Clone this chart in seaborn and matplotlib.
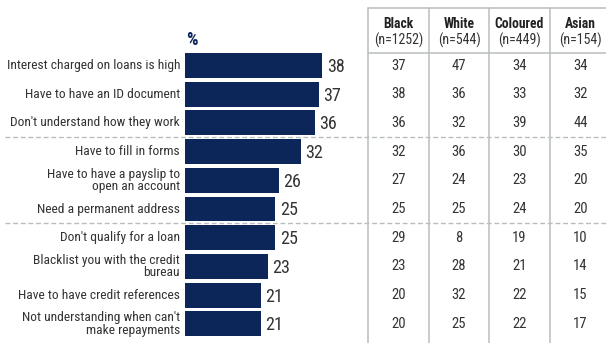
import matplotlib
matplotlib.use("Agg")
import matplotlib.pyplot as plt
import seaborn as sns
import pandas as pd
from matplotlib import font_manager

categories = [
    "Interest charged on loans is high",
    "Have to have an ID document",
    "Don't understand how they work",
    "Have to fill in forms",
    "Have to have a payslip to\nopen an account",
    "Need a permanent address",
    "Don't qualify for a loan",
    "Blacklist you with the credit\nbureau",
    "Have to have credit references",
    "Not understanding when can't\nmake repayments",
]
total = [38, 37, 36, 32, 26, 25, 25, 23, 21, 21]
group_names = ["Black", "White", "Coloured", "Asian"]
group_n = ["(n=1252)", "(n=544)", "(n=449)", "(n=154)"]
black = [37, 38, 36, 32, 27, 25, 29, 23, 20, 20]
white = [47, 36, 32, 36, 24, 25, 8, 28, 32, 25]
coloured = [34, 33, 39, 30, 23, 24, 19, 21, 22, 22]
asian = [34, 32, 44, 35, 20, 20, 10, 14, 15, 17]
separators_after = [2, 5]

sns.set_theme(style="white")
avail = {f.name for f in font_manager.fontManager.ttflist}
fam = [f for f in ["Liberation Sans Narrow", "Roboto Condensed", "DejaVu Sans Condensed", "Liberation Sans", "DejaVu Sans"] if f in avail]
plt.rcParams["font.family"] = fam

W, H = 606, 343
fig = plt.figure(figsize=(W / 100, H / 100), dpi=100)
ax = fig.add_axes([0, 0, 1, 1])

x0 = 185.0       # pixel where bars start
scale = 3.61     # pixels per percent
y0 = 65.5        # pixel center of first row
pitch = 28.7     # pixels per row

def px(x):
    return (x - x0) / scale

def py(y):
    return (y - y0) / pitch

navy = "#0c2659"
txt = "#333333"
grid = "#b9bdbd"

df = pd.DataFrame({"cat": categories, "val": total})
sns.barplot(data=df, x="val", y="cat", orient="h", color=navy, width=0.87,
            saturation=1, ax=ax, edgecolor="none")

ax.set_xlim(px(0), px(W))
ax.set_ylim(py(H), py(0))
ax.axis("off")

# category labels and values
for i, (c, v) in enumerate(zip(categories, total)):
    ax.text(px(180), i, c, ha="right", va="center", fontsize=9.7, color=txt,
            linespacing=0.95)
    ax.text(v + 4.5 / scale, i + 0.05, str(v), ha="left", va="center",
            fontsize=13, color=txt)

ax.text(px(186), py(40), "%", ha="left", va="center", fontsize=13,
        color=navy, fontweight="bold")

# table
col_edges = [368, 429, 489, 550, 611]
for e in col_edges[:-1]:
    ax.plot([px(e), px(e)], [py(8), py(H)], color=grid, lw=1.1, clip_on=False)
for yy in [8, 53]:
    ax.plot([px(368), px(W)], [py(yy), py(yy)], color=grid, lw=1.1)

cols = [black, white, coloured, asian]
for j in range(4):
    cx = px((col_edges[j] + col_edges[j + 1]) / 2)
    ax.text(cx, py(24.5), group_names[j], ha="center", va="center", fontsize=9.8,
            color="#222222", fontweight="bold")
    ax.text(cx, py(40.5), group_n[j], ha="center", va="center", fontsize=10,
            color=txt)
    for i, v in enumerate(cols[j]):
        ax.text(cx, i, str(v), ha="center", va="center", fontsize=10.5, color=txt)

for s in separators_after:
    yy = s + 0.5
    ax.plot([px(5), px(W)], [yy, yy], color=grid, lw=1.0, ls=(0, (3.5, 2)))

fig.savefig("out.png", dpi=100)
